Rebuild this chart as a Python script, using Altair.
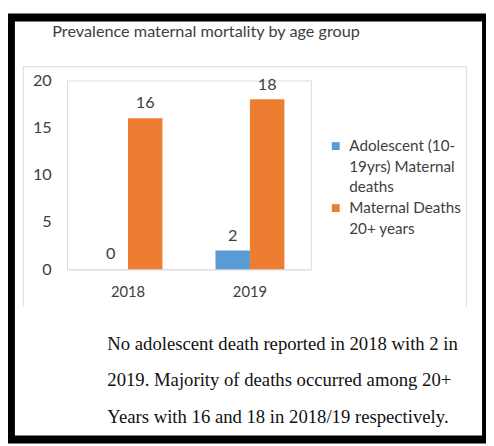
import altair as alt
import pandas as pd

# ---- data ----
years = ["2018", "2019"]
series = ["Adolescent (10-19yrs) Maternal deaths", "Maternal Deaths 20+ years"]
adolescent = [0, 2]
adult = [16, 18]
legend_lines = [["Adolescent (10-", "19yrs) Maternal", "deaths"], ["Maternal Deaths", "20+ years"]]
colors = ["#5B9BD5", "#ED7D31"]
y_ticks = [0, 5, 10, 15, 20]
title_text = "Prevalence maternal mortality by age group"
note_lines = [
    "No adolescent death reported in 2018 with 2 in",
    "2019. Majority of deaths occurred among 20+",
    "Years with 16 and 18 in 2018/19 respectively.",
]

rows = []
for i, yr in enumerate(years):
    rows.append({"year": yr, "series": series[0], "value": adolescent[i]})
    rows.append({"year": yr, "series": series[1], "value": adult[i]})
df = pd.DataFrame(rows)

label_expr = " : ".join(
    f"datum.value == '{s}' ? {lines!r}" for s, lines in zip(series, legend_lines)
) + " : datum.label"

FONT = "Lato"
TXT = "#404040"
GRID = "#D9D9D9"

x_enc = alt.X("year:N", sort=years,
              scale=alt.Scale(paddingInner=0, paddingOuter=0),
              axis=alt.Axis(title=None, labelAngle=0, ticks=False, domainColor=GRID,
                            labelPadding=16, labelFontSize=15, labelColor=TXT, labelFont=FONT))
xo_enc = alt.XOffset("series:N", sort=series, scale=alt.Scale(paddingOuter=0.77, paddingInner=0))
y_enc = alt.Y("value:Q", scale=alt.Scale(domain=[0, 20]),
              axis=alt.Axis(title=None, values=y_ticks, grid=False, ticks=False,
                            domainColor=GRID, labelPadding=16, labelFontSize=16.5,
                            labelColor=TXT, labelFont=FONT))

base = alt.Chart(df)

bars = base.mark_bar().encode(
    x=x_enc, xOffset=xo_enc, y=y_enc,
    color=alt.Color("series:N", sort=series,
                    scale=alt.Scale(domain=series, range=colors),
                    legend=alt.Legend(title=None, orient="none", legendX=265.5, legendY=64,
                                      symbolType="M-1,-2.25H1V-0.25H-1Z", symbolSize=64,
                                      symbolStrokeWidth=0, labelOffset=6, labelFontSize=15.5,
                                      labelColor=TXT, labelFont=FONT, labelLimit=400,
                                      labelExpr=label_expr, labelBaseline="alphabetic",
                                      padding=0, rowPadding=4)),
)

labels = base.mark_text(dy=-15, fontSize=16.5, color=TXT, font=FONT).encode(
    x=alt.X("year:N", sort=years), xOffset=alt.XOffset("series:N", sort=series),
    y="value:Q", text="value:Q",
)

deco = alt.Chart(alt.Data(values=[{}]))
outer = deco.mark_rect(filled=False, stroke="black", strokeWidth=8, clip=False).encode(
    x=alt.value(-57), x2=alt.value(426), y=alt.value(-64), y2=alt.value(365))
box_left = deco.mark_rule(color=GRID, strokeWidth=1, clip=False).encode(
    x=alt.value(-44.5), y=alt.value(-14), y2=alt.value(230))
box_right = deco.mark_rule(color=GRID, strokeWidth=1, clip=False).encode(
    x=alt.value(406), y=alt.value(-14), y2=alt.value(230))
box_top = deco.mark_rule(color=GRID, strokeWidth=1, clip=False).encode(
    x=alt.value(-44.5), x2=alt.value(406), y=alt.value(-14))

title = deco.mark_text(align="left", baseline="middle", font=FONT, fontSize=16.5,
                       color=TXT).encode(
    x=alt.value(-15), y=alt.value(-49), text=alt.value(title_text))

note = deco.mark_text(align="left", baseline="top", font="Liberation Serif", fontSize=19,
                      color="#111111", lineBreak="\n", lineHeight=37).encode(
    x=alt.value(41), y=alt.value(259), text=alt.value("\n".join(note_lines)))

chart = alt.layer(box_left, box_right, box_top, bars, labels, title, note, outer).properties(
    width=248, height=192,
    padding={"left": 60, "top": 70, "right": 178, "bottom": 176},
    autosize=alt.AutoSizeParams(type="none"),
).configure_view(stroke=None).configure(
    background="white", style={"guide-label": {"lineHeight": 21}}
)

chart.save("out.html", embed_options={"renderer": "svg", "actions": False})
